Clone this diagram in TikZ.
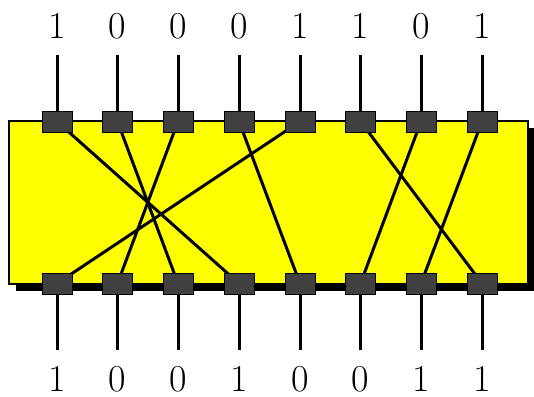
\documentclass[tikz,border=0pt]{standalone}
\definecolor{board}{RGB}{255,255,0}
\definecolor{pad}{RGB}{64,64,64}
\begin{document}
\begin{tikzpicture}[x=1pt,y=-1pt,
  pin/.style={draw=black,line width=1pt,fill=pad,minimum width=30pt,minimum height=21pt,inner sep=0pt},
  stub/.style={line width=3pt},
  wire/.style={line width=3pt},
  bit/.style={font=\fontsize{38}{44}\selectfont,inner sep=0pt}]
\useasboundingbox (0,0) rectangle (534,396);
% shadow and board
\fill[black] (16,128) rectangle (536,291);
\draw[line width=2pt,fill=board] (9,121) rectangle (528,284);
% pin positions
\foreach \i/\x in {1/57,2/117.5,3/178,4/239,5/300,6/360.5,7/421,8/482}{
  \coordinate (t\i) at (\x,121.5);
  \coordinate (b\i) at (\x,283.5);
  \coordinate (ts\i) at (\x,55);
  \coordinate (bs\i) at (\x,350);
}
% crossing wires
\foreach \a/\b in {1/4,2/3,3/2,4/5,5/1,6/8,7/6,8/7}{
  \draw[wire] (t\a) -- (b\b);
}
% pin stubs and pads
\foreach \i in {1,...,8}{
  \draw[stub] (ts\i) -- (t\i);
  \draw[stub] (b\i) -- (bs\i);
  \node[pin] (pt\i) at (t\i) {};
  \node[pin] (pb\i) at (b\i) {};
}
% bit labels
\foreach \i/\v in {1/1,2/0,3/0,4/0,5/1,6/1,7/0,8/1}{
  \node[bit] (lt\i) at ([yshift=29pt]ts\i) {\v};
}
\foreach \i/\v in {1/1,2/0,3/0,4/1,5/0,6/0,7/1,8/1}{
  \node[bit] (lb\i) at ([yshift=-29pt]bs\i) {\v};
}
\end{tikzpicture}
\end{document}
